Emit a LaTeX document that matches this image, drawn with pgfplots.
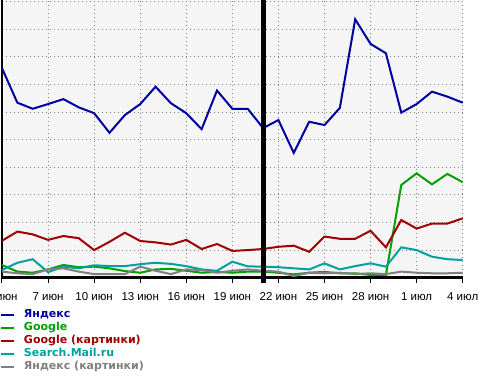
\documentclass[border=0pt]{standalone}
\usepackage{pgfplots}
\usepackage{pgfplotstable}
\pgfplotsset{compat=1.18}
\usepackage{fontspec}
\setmainfont{Liberation Sans}
\newfontfamily\legfont{DejaVu Sans}
\definecolor{yblue}{RGB}{0,0,160}
\definecolor{ggreen}{RGB}{0,160,0}
\definecolor{gred}{RGB}{160,0,0}
\definecolor{mcyan}{RGB}{0,160,160}
\definecolor{ygray}{RGB}{128,128,128}
\definecolor{bgc}{RGB}{245,245,245}
\pgfplotstableread{
d ya go gi sm yi
0 7.59 0.46 1.34 0.28 0.22
1 6.34 0.22 1.67 0.54 0.16
2 6.12 0.18 1.57 0.67 0.13
3 6.29 0.30 1.37 0.20 0.30
4 6.47 0.46 1.51 0.40 0.34
5 6.17 0.38 1.43 0.34 0.22
6 5.96 0.40 1.00 0.45 0.13
7 5.25 0.34 1.30 0.42 0.13
8 5.89 0.24 1.63 0.42 0.13
9 6.29 0.18 1.33 0.49 0.40
10 6.92 0.30 1.28 0.54 0.25
11 6.32 0.32 1.20 0.50 0.13
12 5.96 0.25 1.37 0.42 0.30
13 5.38 0.18 1.04 0.30 0.28
14 6.78 0.21 1.22 0.25 0.18
15 6.12 0.18 0.97 0.58 0.25
16 6.12 0.22 1.00 0.41 0.30
17 5.42 0.22 1.04 0.40 0.25
18 5.71 0.18 1.12 0.38 0.22
19 4.52 0.12 1.16 0.34 0.06
20 5.65 0.18 0.94 0.30 0.18
21 5.53 0.21 1.49 0.52 0.16
22 6.15 0.16 1.41 0.30 0.18
23 9.36 0.16 1.41 0.42 0.13
24 8.47 0.10 1.70 0.52 0.16
25 8.13 0.10 1.10 0.40 0.13
26 5.98 3.36 2.09 1.10 0.22
27 6.29 3.78 1.78 1.00 0.18
28 6.74 3.38 1.96 0.76 0.16
29 6.56 3.76 1.96 0.67 0.16
30 6.34 3.46 2.15 0.64 0.18
}\datatab
\begin{document}
\begin{tikzpicture}
\useasboundingbox (0,0) rectangle (488bp,377bp);
\begin{axis}[
  at={(2bp,99.3bp)}, anchor=south west,
  scale only axis, width=460.7bp, height=277.7bp,
  xmin=0, xmax=30, ymin=0, ymax=10.06,
  axis background/.style={fill=bgc},
  axis x line*=bottom, axis y line*=left,
  axis line style={black, line width=2.5bp},
  xtick={0,3,...,30},
  xticklabels={4 июн,7 июн,10 июн,13 июн,16 июн,19 июн,22 июн,25 июн,28 июн,1 июл,4 июл},
  ytick={0,1,...,10}, yticklabels={},
  grid=major,
  major grid style={ygray, line width=1bp, dash pattern=on 1bp off 3bp},
  tick align=outside,
  major tick length=5bp,
  tick style={black, line width=1bp},
  ytick style={draw=none},
  /pgf/number format/assume math mode=true,
  xticklabel style={font=\fontsize{11.5bp}{13bp}\selectfont, inner sep=0pt, anchor=base, yshift=-17.5bp},
  clip=false,
  legend cell align=left,
  legend image code/.code={\draw[#1, line width=2bp] (0bp,0bp) -- (13bp,0bp);},
  legend style={
    at={(axis description cs:0,0)}, anchor=north west,
    xshift=-2bp, yshift=-30.6bp,
    draw=none, fill=none, inner sep=0pt, outer sep=0pt,
    row sep=0pt,
    font=\legfont\bfseries\fontsize{11bp}{13bp}\selectfont,
    nodes={inner sep=0pt, text height=9bp, text depth=4bp},
    /tikz/every odd column/.append style={column sep=9bp},
  },
]
\addplot[yblue, line width=2bp] table[x=d, y=ya] {\datatab};
\addlegendentry{\textcolor{yblue}{Яндекс}}
\addplot[ggreen, line width=2bp] table[x=d, y=go] {\datatab};
\addlegendentry{\textcolor{ggreen}{Google}}
\addplot[gred, line width=2bp] table[x=d, y=gi] {\datatab};
\addlegendentry{\textcolor{gred}{Google (картинки)}}
\addplot[mcyan, line width=2bp] table[x=d, y=sm] {\datatab};
\addlegendentry{\textcolor{mcyan}{Search.Mail.ru}}
\addplot[ygray, line width=2bp] table[x=d, y=yi] {\datatab};
\addlegendentry{\textcolor{ygray}{Яндекс (картинки)}}
\addplot[black, line width=5bp, forget plot] coordinates {(17,-0.2) (17,10.06)};
\end{axis}
\end{tikzpicture}
\end{document}
